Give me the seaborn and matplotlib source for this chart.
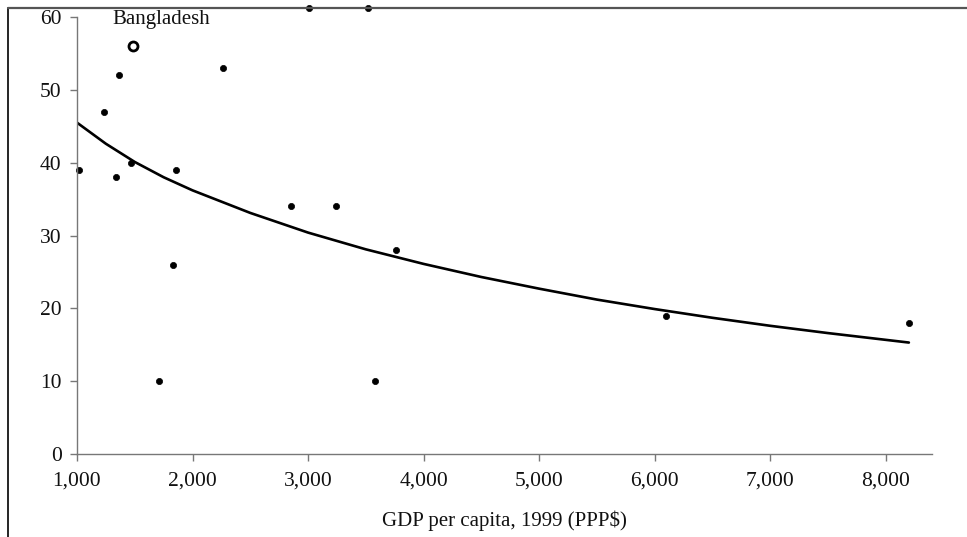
import matplotlib
matplotlib.use("Agg")
import matplotlib.pyplot as plt
import seaborn as sns
import pandas as pd
from matplotlib.lines import Line2D

# Country observations (GDP per capita, value)
gdp = [1020, 1233, 1362, 1336, 1466, 1853, 1828, 1707, 2265, 2850, 3240,
       3580, 3760, 6100, 8200, 3010, 3520]
val = [39, 47, 52, 38, 40, 39, 26, 10, 53, 34, 34, 10, 28, 19, 18, 61.2, 61.2]

# Highlighted country
hl_name = "Bangladesh"
hl_gdp = [1483]
hl_val = [56]

# Fitted trend curve
curve_x = [1000, 1250, 1500, 1750, 2000, 2500, 3000, 3500, 4000, 4500, 5000,
           5500, 6000, 6500, 7000, 7500, 8200]
curve_y = [45.5, 42.6, 40.1, 38.0, 36.2, 33.1, 30.4, 28.1, 26.1, 24.3, 22.7,
           21.2, 19.9, 18.7, 17.6, 16.6, 15.3]

xticks = [1000, 2000, 3000, 4000, 5000, 6000, 7000, 8000]
yticks = [0, 10, 20, 30, 40, 50, 60]
xlabel = "GDP per capita, 1999 (PPP$)"

sns.set_theme(style="white")
plt.rcParams["font.family"] = ["Liberation Serif", "DejaVu Serif"]

fig = plt.figure(figsize=(9.67, 5.37), dpi=100)
ax = fig.add_axes([0.0796, 0.1546, 0.8842, 0.8137])

pts = pd.DataFrame({"gdp": gdp, "val": val})
cur = pd.DataFrame({"x": curve_x, "y": curve_y})
hl = pd.DataFrame({"gdp": hl_gdp, "val": hl_val})

sns.lineplot(data=cur, x="x", y="y", ax=ax, color="black", linewidth=1.9)
sns.scatterplot(data=pts, x="gdp", y="val", ax=ax, color="black", s=20,
                marker="o", edgecolor="black", linewidth=0.5)
sns.scatterplot(data=hl, x="gdp", y="val", ax=ax, s=42, marker="o",
                facecolor="white", edgecolor="black", linewidth=2.0)
for c in ax.collections:
    c.set_clip_on(False)

ax.text(1310, 59.6, hl_name, fontsize=15, va="center", ha="left", color="#111111")

ax.set_xlim(1000, 8400)
ax.set_ylim(0, 60)
ax.set_xticks(xticks)
ax.set_xticklabels([f"{v:,}" for v in xticks])
ax.set_yticks(yticks)
ax.set_xlabel(xlabel, fontsize=15, color="#111111", labelpad=14)
ax.set_ylabel("")

for s in ["top", "right"]:
    ax.spines[s].set_visible(False)
for s in ["left", "bottom"]:
    ax.spines[s].set_color("#777777")
    ax.spines[s].set_linewidth(1.0)
ax.tick_params(axis="both", direction="out", length=5, width=1, color="#777777",
               labelsize=15.5, labelcolor="#111111", left=True, bottom=True)
ax.tick_params(axis="x", pad=8)
ax.tick_params(axis="y", pad=6)

# scan frame lines (left and top borders)
fig.add_artist(Line2D([8 / 967, 8 / 967], [0, 1 - 8 / 537], transform=fig.transFigure,
                      color="black", linewidth=1.2))
fig.add_artist(Line2D([8 / 967, 1], [1 - 8 / 537, 1 - 8 / 537], transform=fig.transFigure,
                      color="#555555", linewidth=1.6))

fig.savefig("out.png", dpi=100)
